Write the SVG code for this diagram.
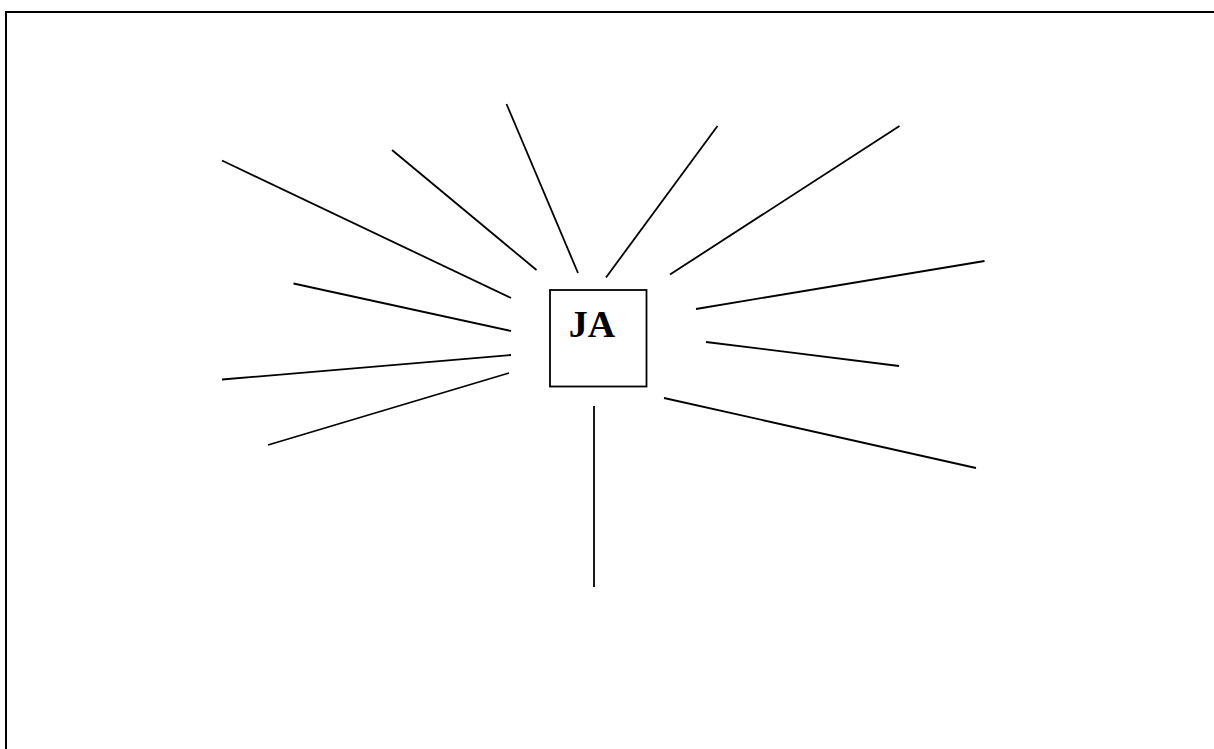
<svg xmlns="http://www.w3.org/2000/svg" width="1214" height="749" viewBox="0 0 1214 749">
<style>
.ln{stroke:#000;stroke-width:1.8;fill:none;stroke-linecap:butt}
.frame{stroke:#000;stroke-width:2;fill:none}
.box{stroke:#000;stroke-width:1.8;fill:#fff}
.lbl{font-family:"Liberation Serif","Times New Roman",serif;font-weight:bold;font-size:38px;fill:#000}
</style>
<rect width="1214" height="749" fill="#fff"/>
<g id="frame"><path class="frame" d="M6,749 V12 H1214"/></g>
<g id="connectors">
<line class="ln" x1="222" y1="160.5" x2="511" y2="298"/>
<line class="ln" x1="392" y1="150" x2="536.5" y2="270"/>
<line class="ln" x1="506.5" y1="104" x2="578" y2="273"/>
<line class="ln" x1="717.5" y1="126" x2="606" y2="277.5"/>
<line class="ln" x1="899.5" y1="126" x2="670" y2="274.5"/>
<line class="ln" x1="984.5" y1="261" x2="696" y2="309"/>
<line class="ln" x1="706" y1="342" x2="899" y2="366"/>
<line class="ln" x1="664" y1="398" x2="976" y2="468"/>
<line class="ln" x1="594" y1="406" x2="594" y2="587"/>
<line class="ln" x1="293.5" y1="283.5" x2="511" y2="331"/>
<line class="ln" x1="222" y1="379.5" x2="511" y2="355"/>
<line class="ln" x1="268" y1="445" x2="509" y2="373"/>
</g>
<g id="node-ja">
<rect class="box" x="550" y="290" width="96.5" height="96.5"/>
<text class="lbl" x="592" y="337" text-anchor="middle">JA</text>
</g>
</svg>
